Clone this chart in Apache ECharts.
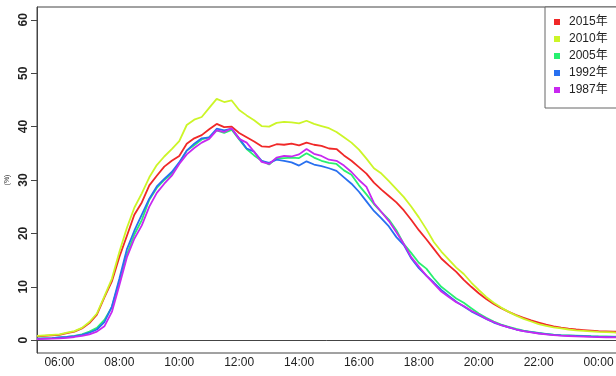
<!DOCTYPE html>
<html>
<head>
<meta charset="utf-8">
<script src="https://cdn.jsdelivr.net/npm/echarts@6/dist/echarts.min.js"></script>
<style>
html,body{margin:0;padding:0;background:#fff;}
#chart{width:616px;height:376px;}
</style>
</head>
<body>
<div id="chart"></div>
<script>
var times = ["05:15","05:30","05:45","06:00","06:15","06:30","06:45","07:00","07:15","07:30",
"07:45","08:00","08:15","08:30","08:45","09:00","09:15","09:30","09:45","10:00",
"10:15","10:30","10:45","11:00","11:15","11:30","11:45","12:00","12:15","12:30",
"12:45","13:00","13:15","13:30","13:45","14:00","14:15","14:30","14:45","15:00",
"15:15","15:30","15:45","16:00","16:15","16:30","16:45","17:00","17:15","17:30",
"17:45","18:00","18:15","18:30","18:45","19:00","19:15","19:30","19:45","20:00",
"20:15","20:30","20:45","21:00","21:15","21:30","21:45","22:00","22:15","22:30",
"22:45","23:00","23:15","23:30","23:45","00:00","00:15","00:30","00:45"];

var names = ["2015年","2010年","2005年","1992年","1987年"];

var y2015 = [0.7,0.8,0.9,1.0,1.3,1.6,2.2,3.2,4.8,8.0,
11.0,15.6,19.5,23.5,25.8,29.0,30.8,32.5,33.6,34.5,
36.8,37.8,38.4,39.5,40.5,39.9,40.0,38.8,38.0,37.2,
36.3,36.2,36.7,36.6,36.8,36.5,37.0,36.6,36.4,35.9,
35.8,34.6,33.6,32.4,31.2,29.5,28.2,27.0,25.8,24.3,
22.5,20.6,18.9,17.1,15.3,14.0,12.8,11.3,10.0,8.8,
7.7,6.8,6.0,5.3,4.7,4.2,3.7,3.3,2.9,2.6,
2.35,2.15,2.0,1.9,1.8,1.7,1.65,1.6,1.55];

var y2010 = [0.8,0.9,1.0,1.1,1.4,1.7,2.3,3.4,5.0,8.2,
11.5,16.5,21.0,24.8,27.5,30.5,32.8,34.4,35.8,37.3,
40.3,41.3,41.8,43.5,45.2,44.6,44.9,43.1,42.1,41.2,
40.1,40.0,40.7,40.9,40.8,40.6,41.1,40.5,40.1,39.7,
39.0,38.0,37.0,35.7,34.0,32.2,31.2,29.8,28.3,26.8,
25.0,23.0,20.8,18.4,16.6,15.1,13.6,12.4,10.8,9.4,
8.1,7.0,6.1,5.3,4.6,4.0,3.5,3.0,2.7,2.4,
2.2,2.0,1.85,1.75,1.65,1.55,1.5,1.45,1.4];

var y2005 = [0.3,0.35,0.4,0.5,0.6,0.8,1.1,1.6,2.3,3.8,
6.2,11.0,16.0,19.8,22.5,26.3,28.5,30.0,31.2,33.2,
35.5,36.5,37.6,38.0,39.3,38.8,39.4,37.6,35.8,34.6,
33.6,32.9,34.1,34.1,34.2,34.1,35.0,34.2,33.6,33.2,
33.0,31.8,31.0,29.0,27.3,25.5,24.0,22.6,20.6,18.0,
16.3,14.5,13.4,11.6,10.0,8.9,7.8,7.0,6.0,5.0,
4.2,3.5,2.9,2.5,2.1,1.8,1.55,1.35,1.2,1.05,
0.95,0.9,0.85,0.8,0.75,0.72,0.7,0.68,0.66];

var y1992 = [0.3,0.35,0.4,0.5,0.6,0.75,1.0,1.4,2.0,3.4,
6.3,11.5,17.0,20.5,23.5,26.5,28.8,30.2,31.5,33.3,
35.5,36.8,37.8,38.0,39.6,39.3,39.6,37.8,35.9,35.3,
33.6,33.2,33.8,33.6,33.3,32.7,33.5,32.9,32.6,32.2,
31.7,30.5,29.3,27.8,26.0,24.2,22.8,21.3,19.3,17.8,
15.3,13.5,12.1,10.8,9.4,8.3,7.2,6.3,5.4,4.7,
4.0,3.3,2.8,2.4,2.0,1.7,1.5,1.3,1.15,1.0,
0.9,0.85,0.8,0.75,0.7,0.66,0.63,0.6,0.58];

var y1987 = [0.2,0.25,0.3,0.35,0.45,0.6,0.8,1.1,1.6,2.6,
5.3,10.3,15.5,19.0,21.5,25.0,27.6,29.3,30.8,33.0,
34.8,36.0,37.0,37.7,39.3,39.0,39.7,37.7,37.0,35.3,
33.4,33.0,34.2,34.5,34.4,34.8,35.8,34.9,34.5,33.8,
33.6,32.7,31.5,30.0,28.7,25.7,24.0,22.3,20.2,18.0,
15.5,13.8,12.1,10.6,9.1,8.1,7.1,6.4,5.5,4.8,
4.0,3.4,2.8,2.4,2.0,1.7,1.45,1.25,1.1,0.95,
0.85,0.78,0.72,0.67,0.62,0.58,0.55,0.52,0.5];

var yTicks = [0,10,20,30,40,50,60];
var colors = ["#f02828","#ccf528","#28f070","#2870f0","#c828f0"];

var seriesData = [y2015,y2010,y2005,y1992,y1987];
var FONT = "'Liberation Sans','Noto Sans CJK JP',sans-serif";

var chart = echarts.init(document.getElementById('chart'), null, {renderer:'canvas'});
chart.setOption({
  animation: false,
  backgroundColor: '#fff',
  color: colors,
  grid: {left: 37, top: 7, width: 584, height: 346, show: true, borderColor: '#444', borderWidth: 1,
         backgroundColor: 'transparent', outerBoundsMode: 'none', containLabel: false},
  legend: {
    orient: 'vertical', left: 545, top: 7,
    data: names,
    icon: 'rect', itemWidth: 6, itemHeight: 6, itemGap: 5,
    padding: [9, 30, 12, 9],
    borderColor: '#666', borderWidth: 1, backgroundColor: '#fff',
    textStyle: {fontSize: 12, fontFamily: FONT, color: '#222', lineHeight: 12, padding: [0,0,0,4]}
  },
  xAxis: {
    type: 'category', data: times, boundaryGap: false,
    axisLine: {show: true, lineStyle: {color: '#444', width: 1}},
    axisTick: {show: false},
    axisLabel: {
      interval: function(i, v){ return v.slice(3) === '00' && parseInt(v.slice(0,2),10) % 2 === 0; },
      fontSize: 12, fontFamily: FONT, color: '#222', margin: 4
    },
    splitLine: {show: false}
  },
  yAxis: {
    type: 'value', min: -2.4, max: 62.4,
    name: '(%)', nameLocation: 'middle', nameRotate: 90, nameGap: 23,
    nameTextStyle: {fontSize: 7, fontFamily: FONT, color: '#333'},
    axisLine: {show: true, lineStyle: {color: '#444', width: 1}},
    axisTick: {show: true, length: 6, customValues: yTicks, lineStyle: {color: '#444'}},
    axisLabel: {customValues: yTicks, rotate: 90, fontSize: 12, fontFamily: FONT, color: '#222', margin: 7, fontWeight: 'bold'},
    splitLine: {show: false}
  },
  series: seriesData.map(function(d, i){
    return {name: names[i], type: 'line', data: d, showSymbol: false, symbol: 'none',
      lineStyle: {width: 1.8, color: colors[i]}, itemStyle: {color: colors[i]}};
  })
});
</script>
</body>
</html>
